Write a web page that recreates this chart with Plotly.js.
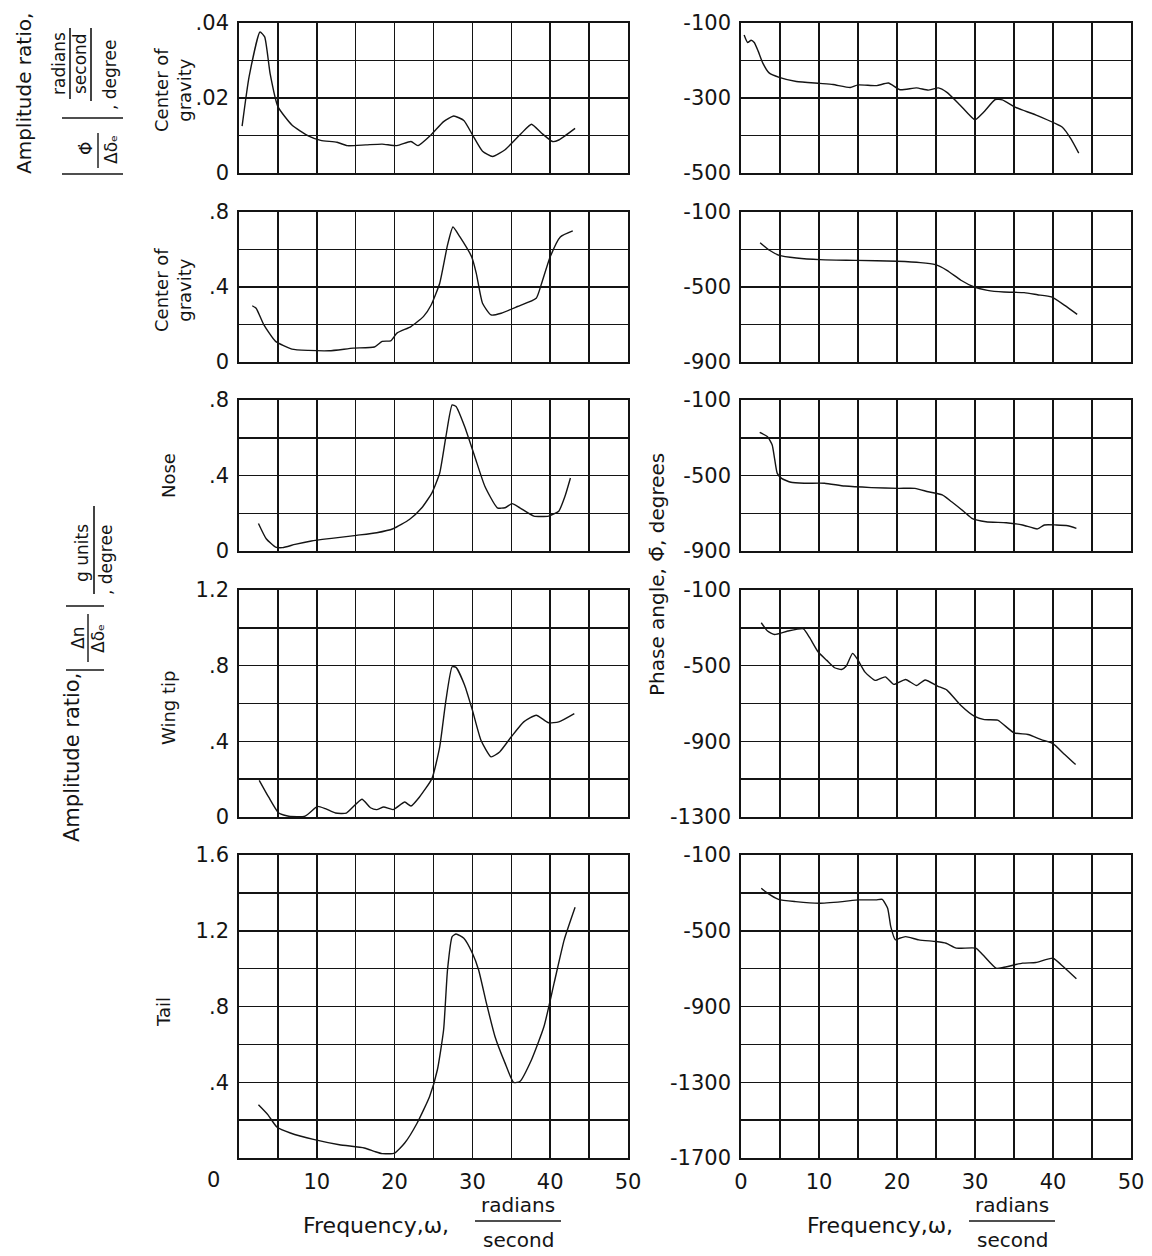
<!DOCTYPE html>
<html>
<head>
<meta charset="utf-8">
<script src="https://cdn.plot.ly/plotly-3.0.1.min.js"></script>
<style>html,body{margin:0;padding:0;background:#fff;}#chart{width:1152px;height:1256px;}</style>
</head>
<body>
<div id="chart"></div>
<script>
// ---------- DATA ----------
// Row 1: center of gravity, rolling velocity amplitude ratio / phase
const rollFreq = [0.4, 1.3, 2.7, 3.3, 4.0, 5.0, 6.8, 8.9, 10.5, 12.6, 13.9, 16.3, 18.4, 20.3, 22.1, 23.0, 24.7, 26.3, 27.6, 28.9, 30.0, 31.3, 32.6, 34.2, 36.3, 37.6, 38.9, 40.3, 41.1, 43.2];
const rollAmp = [0.0125, 0.0257, 0.0376, 0.0363, 0.0265, 0.0177, 0.0128, 0.0099, 0.0087, 0.0082, 0.0073, 0.0075, 0.0077, 0.0073, 0.0084, 0.0073, 0.0102, 0.0137, 0.0152, 0.0140, 0.0102, 0.0058, 0.0044, 0.0062, 0.0106, 0.0130, 0.0106, 0.0084, 0.0088, 0.0119];
const rollPhaseFreq = [0.4, 0.85, 1.3, 1.7, 2.2, 2.8, 3.6, 4.9, 7.1, 10.1, 11.8, 14.0, 15.0, 17.4, 18.9, 20.4, 22.5, 24.0, 25.3, 26.4, 28.1, 30.0, 31.1, 32.6, 33.5, 35.2, 38.0, 41.2, 42.3, 43.3];
const rollPhase = [-132, -152, -146, -152, -175, -207, -233, -245, -256, -261, -264, -272, -265, -267, -260, -278, -273, -279, -273, -285, -319, -358, -338, -304, -305, -325, -347, -378, -409, -447];

// Row 2: center of gravity, normal acceleration
const cgFreq = [1.7, 2.2, 3.2, 4.7, 6.8, 8.9, 11.6, 14.7, 17.4, 18.4, 19.5, 20.3, 22.1, 23.7, 24.7, 25.8, 26.8, 27.5, 28.4, 29.9, 30.5, 31.3, 32.4, 33.7, 35.8, 38.2, 38.9, 40.0, 41.3, 42.9];
const cgAmp = [0.30, 0.287, 0.198, 0.11, 0.069, 0.062, 0.06, 0.074, 0.08, 0.11, 0.113, 0.154, 0.189, 0.242, 0.304, 0.42, 0.623, 0.72, 0.667, 0.561, 0.473, 0.313, 0.251, 0.26, 0.296, 0.34, 0.42, 0.561, 0.667, 0.699];
const cgPhaseFreq = [2.45, 3.65, 4.9, 7.1, 10.1, 14.8, 20.0, 23.0, 24.9, 26.4, 28.2, 29.9, 31.6, 33.7, 36.3, 38.0, 39.8, 41.5, 43.1];
const cgPhase = [-264, -304, -331, -345, -354, -358, -363, -370, -381, -411, -464, -500, -518, -527, -530, -541, -553, -598, -646];

// Row 3: nose
const noseFreq = [2.5, 3.5, 4.7, 5.6, 7.2, 9.3, 11.9, 15.1, 17.7, 19.8, 21.9, 23.5, 24.8, 25.8, 26.6, 27.4, 27.9, 29.0, 30.3, 31.6, 33.2, 34.2, 35.1, 36.1, 37.9, 39.8, 41.1, 41.9, 42.6];
const noseAmp = [0.146, 0.065, 0.021, 0.018, 0.035, 0.053, 0.067, 0.083, 0.097, 0.118, 0.167, 0.229, 0.308, 0.413, 0.607, 0.774, 0.765, 0.659, 0.501, 0.343, 0.229, 0.229, 0.251, 0.229, 0.185, 0.185, 0.211, 0.290, 0.387];
const nosePhaseFreq = [2.4, 3.4, 4.0, 4.3, 4.65, 5.2, 6.4, 8.1, 10.7, 13.3, 16.7, 20.2, 22.3, 24.0, 25.8, 27.0, 28.6, 29.6, 31.4, 34.0, 36.1, 38.0, 38.9, 40.4, 41.9, 43.0];
const nosePhase = [-271, -294, -338, -409, -489, -515, -536, -541, -541, -556, -564, -568, -568, -586, -603, -639, -692, -727, -745, -750, -762, -783, -762, -762, -766, -780];

// Row 4: wing tip
const wingFreq = [2.6, 3.8, 5.1, 6.4, 8.5, 10.1, 11.1, 12.4, 13.8, 15.8, 16.9, 17.7, 18.6, 19.8, 21.3, 22.1, 23.2, 24.8, 25.8, 26.6, 27.4, 27.9, 29.0, 30.0, 31.1, 32.4, 33.5, 35.0, 36.6, 38.2, 39.8, 41.1, 43.1];
const wingAmp = [0.194, 0.106, 0.021, 0.004, 0.005, 0.056, 0.044, 0.021, 0.021, 0.094, 0.049, 0.039, 0.053, 0.039, 0.079, 0.058, 0.106, 0.203, 0.371, 0.618, 0.794, 0.791, 0.697, 0.565, 0.406, 0.318, 0.344, 0.424, 0.503, 0.538, 0.498, 0.503, 0.547];
const wingPhaseFreq = [2.6, 3.4, 4.3, 6.0, 8.0, 8.8, 9.9, 11.0, 12.0, 12.9, 13.5, 14.3, 14.9, 15.9, 17.2, 18.5, 19.6, 21.1, 22.5, 23.6, 25.2, 26.4, 28.2, 29.9, 31.2, 32.9, 35.0, 36.8, 38.5, 40.0, 41.5, 42.9];
const wingPhase = [-273, -317, -335, -317, -305, -352, -428, -472, -511, -520, -502, -435, -464, -534, -578, -559, -599, -573, -605, -576, -608, -629, -711, -767, -785, -788, -855, -864, -891, -912, -970, -1023];

// Row 5: tail
const tailFreq = [2.5, 3.7, 4.9, 6.6, 9.7, 12.9, 16.1, 17.4, 18.4, 20.0, 21.3, 22.9, 24.5, 25.5, 26.3, 26.8, 27.4, 27.9, 28.9, 30.0, 30.8, 31.8, 32.9, 34.2, 35.3, 36.1, 37.6, 39.2, 40.5, 41.8, 43.2];
const tailAmp = [0.281, 0.229, 0.162, 0.132, 0.097, 0.070, 0.053, 0.035, 0.023, 0.026, 0.079, 0.185, 0.325, 0.466, 0.677, 0.993, 1.169, 1.183, 1.160, 1.081, 0.993, 0.818, 0.642, 0.501, 0.399, 0.404, 0.519, 0.694, 0.923, 1.152, 1.324];
const tailPhaseFreq = [2.6, 3.3, 4.8, 7.0, 10.0, 13.0, 15.1, 17.3, 18.1, 18.8, 19.2, 19.8, 20.3, 21.1, 22.8, 25.0, 26.3, 27.6, 30.1, 31.0, 32.7, 33.6, 36.1, 37.8, 40.0, 41.3, 43.0];
const tailPhase = [-276, -299, -334, -346, -355, -346, -337, -337, -334, -381, -478, -548, -540, -531, -548, -557, -566, -592, -592, -627, -698, -694, -671, -668, -645, -689, -754];

// Row labels
const rowLabels = ["Center of<br>gravity", "Center of<br>gravity", "Nose", "Wing tip", "Tail"];

// Tick labels (major) and the extra unlabelled grid lines (minor)
const freqTicksLeft = [10, 20, 30, 40, 50];
const freqTextLeft = ["10", "20", "30", "40", "50"];
const freqTicksRight = [0, 10, 20, 30, 40, 50];
const freqTextRight = ["0", "10", "20", "30", "40", "50"];
const freqMinor = [0, 5, 15, 25, 35, 45];

const ampTicks1 = [0, 0.02, 0.04];
const ampText1 = ["0", ".02", ".04"];
const ampMinor1 = [0.01, 0.03];
const ampTicks23 = [0, 0.4, 0.8];
const ampText23 = ["0", ".4", ".8"];
const ampMinor23 = [0.2, 0.6];
const ampTicks4 = [0, 0.4, 0.8, 1.2];
const ampText4 = ["0", ".4", ".8", "1.2"];
const ampMinor4 = [0.2, 0.6, 1.0];
const ampTicks5 = [0.4, 0.8, 1.2, 1.6];
const ampText5 = [".4", ".8", "1.2", "1.6"];
const ampMinor5 = [0, 0.2, 0.6, 1.0, 1.4];

const phaseTicks1 = [-500, -300, -100];
const phaseText1 = ["-500", "-300", "-100"];
const phaseMinor1 = [-400, -200];
const phaseTicks23 = [-900, -500, -100];
const phaseText23 = ["-900", "-500", "-100"];
const phaseMinor23 = [-700, -300];
const phaseTicks4 = [-1300, -900, -500, -100];
const phaseText4 = ["-1300", "-900", "-500", "-100"];
const phaseMinor4 = [-1100, -700, -300];
const phaseTicks5 = [-1700, -1300, -900, -500, -100];
const phaseText5 = ["-1700", "-1300", "-900", "-500", "-100"];
const phaseMinor5 = [-1500, -1100, -700, -300];

// ---------- BUILD ----------
const W = 1152, H = 1256;
const FONT = "DejaVu Sans";
const INK = "#141414";
const px = v => v / W;
const py = v => 1 - v / H;

const rowsPx = [[23, 173], [212, 362], [400, 551], [590, 817], [855, 1158]];
const leftDom = [px(239), px(628)];
const rightDom = [px(741), px(1131)];

const ampSeries = [[rollFreq, rollAmp], [cgFreq, cgAmp], [noseFreq, noseAmp], [wingFreq, wingAmp], [tailFreq, tailAmp]];
const phaseSeries = [[rollPhaseFreq, rollPhase], [cgPhaseFreq, cgPhase], [nosePhaseFreq, nosePhase], [wingPhaseFreq, wingPhase], [tailPhaseFreq, tailPhase]];
const ampAxes = [
  [ampTicks1, ampText1, ampMinor1, [0, 0.04]],
  [ampTicks23, ampText23, ampMinor23, [0, 0.8]],
  [ampTicks23, ampText23, ampMinor23, [0, 0.8]],
  [ampTicks4, ampText4, ampMinor4, [0, 1.2]],
  [ampTicks5, ampText5, ampMinor5, [0, 1.6]]];
const phaseAxes = [
  [phaseTicks1, phaseText1, phaseMinor1, [-500, -100]],
  [phaseTicks23, phaseText23, phaseMinor23, [-900, -100]],
  [phaseTicks23, phaseText23, phaseMinor23, [-900, -100]],
  [phaseTicks4, phaseText4, phaseMinor4, [-1300, -100]],
  [phaseTicks5, phaseText5, phaseMinor5, [-1700, -100]]];

const traces = [];
const layout = {
  width: W, height: H,
  margin: {l: 0, r: 0, t: 0, b: 0, pad: 0},
  paper_bgcolor: "#fff", plot_bgcolor: "#fff",
  showlegend: false,
  font: {family: FONT, color: INK},
  annotations: [], shapes: []
};

function axis(ticks, text, minor, range, dom, anchor, showLabels) {
  return {
    domain: dom, anchor: anchor, range: range,
    showline: true, mirror: true, linecolor: INK, linewidth: 1.8,
    showgrid: true, gridcolor: INK, gridwidth: 1.5,
    zeroline: false, ticks: "", fixedrange: true,
    tickmode: "array", tickvals: ticks, ticktext: text,
    showticklabels: showLabels, ticklabelstandoff: 4,
    minor: {tickmode: "array", tickvals: minor, showgrid: true, gridcolor: INK, gridwidth: 1.5, ticks: ""},
    tickfont: {family: FONT, size: 21, color: INK}
  };
}

for (let i = 0; i < 5; i++) {
  const dom = [py(rowsPx[i][1]), py(rowsPx[i][0])];
  const bottom = (i === 4);
  const nL = 2 * i + 1, nR = 2 * i + 2;
  layout["xaxis" + nL] = axis(freqTicksLeft, freqTextLeft, freqMinor, [0, 50], leftDom, "y" + nL, bottom);
  layout["yaxis" + nL] = axis(ampAxes[i][0], ampAxes[i][1], ampAxes[i][2], ampAxes[i][3], dom, "x" + nL, true);
  layout["xaxis" + nR] = axis(freqTicksRight, freqTextRight, freqMinor, [0, 50], rightDom, "y" + nR, bottom);
  layout["yaxis" + nR] = axis(phaseAxes[i][0], phaseAxes[i][1], phaseAxes[i][2], phaseAxes[i][3], dom, "x" + nR, true);

  const line = {color: INK, width: 1.4, shape: "spline", smoothing: 0.5};
  traces.push({x: ampSeries[i][0], y: ampSeries[i][1], xaxis: "x" + nL, yaxis: "y" + nL,
               mode: "lines", line: line, hoverinfo: "skip"});
  traces.push({x: phaseSeries[i][0], y: phaseSeries[i][1], xaxis: "x" + nR, yaxis: "y" + nR,
               mode: "lines", line: line, hoverinfo: "skip"});
}

function note(text, x, y, size, angle) {
  layout.annotations.push({
    text: text, xref: "paper", yref: "paper", x: px(x), y: py(y),
    xanchor: "center", yanchor: "middle", showarrow: false,
    textangle: angle || 0, font: {family: FONT, size: size, color: INK}
  });
}
function bar(x0, y0, x1, y1, w) {
  layout.shapes.push({type: "line", xref: "paper", yref: "paper",
    x0: px(x0), y0: py(y0), x1: px(x1), y1: py(y1), line: {color: INK, width: w || 1.6}});
}

// row labels
const rowLabelPos = [[173, 90], [173, 290], [168, 476], [168, 708], [163, 1012]];
rowLabels.forEach((t, i) => note(t, rowLabelPos[i][0], rowLabelPos[i][1], 18, -90));

// "0" at the lower-left corner of the tail plot
note("0", 213, 1180, 21, 0);

// Top-left axis title: Amplitude ratio, |Φ̇/Δδe|, (radians/second)/degree
note("Amplitude ratio,", 24, 94, 20, -90);
note("radians", 59, 64, 17, -90);
bar(70, 28, 70, 99);
note("second", 80, 64, 17, -90);
bar(91, 28, 91, 101);
note(", degree", 110, 75, 17, -90);
bar(62, 118, 123, 118);
bar(62, 174, 123, 174);
note("Φ̇", 86, 149, 17, -90);
bar(98, 133, 98, 168, 1.4);
note("Δδₑ", 111, 150, 17, -90);

// Middle-left axis title: Amplitude ratio, |Δn/Δδe|, (g units)/degree
note("Amplitude ratio,", 72, 758, 21, -90);
bar(66, 670, 104, 670);
bar(66, 606, 104, 606);
note("Δn", 78, 638, 17, -90);
bar(88, 614, 88, 662, 1.4);
note("Δδₑ", 98, 639, 17, -90);
note("g units", 82, 553, 17, -90);
bar(94, 506, 94, 594);
note(", degree", 106, 560, 17, -90);

// Phase title
note("Phase angle, Φ̄, degrees", 657, 575, 20, -90);

// Frequency titles
[[376, 518], [880, 1012]].forEach(p => {
  note("Frequency,ω,", p[0], 1225, 22, 0);
  note("radians", p[1], 1205, 20, 0);
  bar(p[1] - 43, 1221, p[1] + 43, 1221);
  note("second", p[1], 1240, 20, 0);
});

Plotly.newPlot("chart", traces, layout, {staticPlot: true, displayModeBar: false});
</script>
</body>
</html>
